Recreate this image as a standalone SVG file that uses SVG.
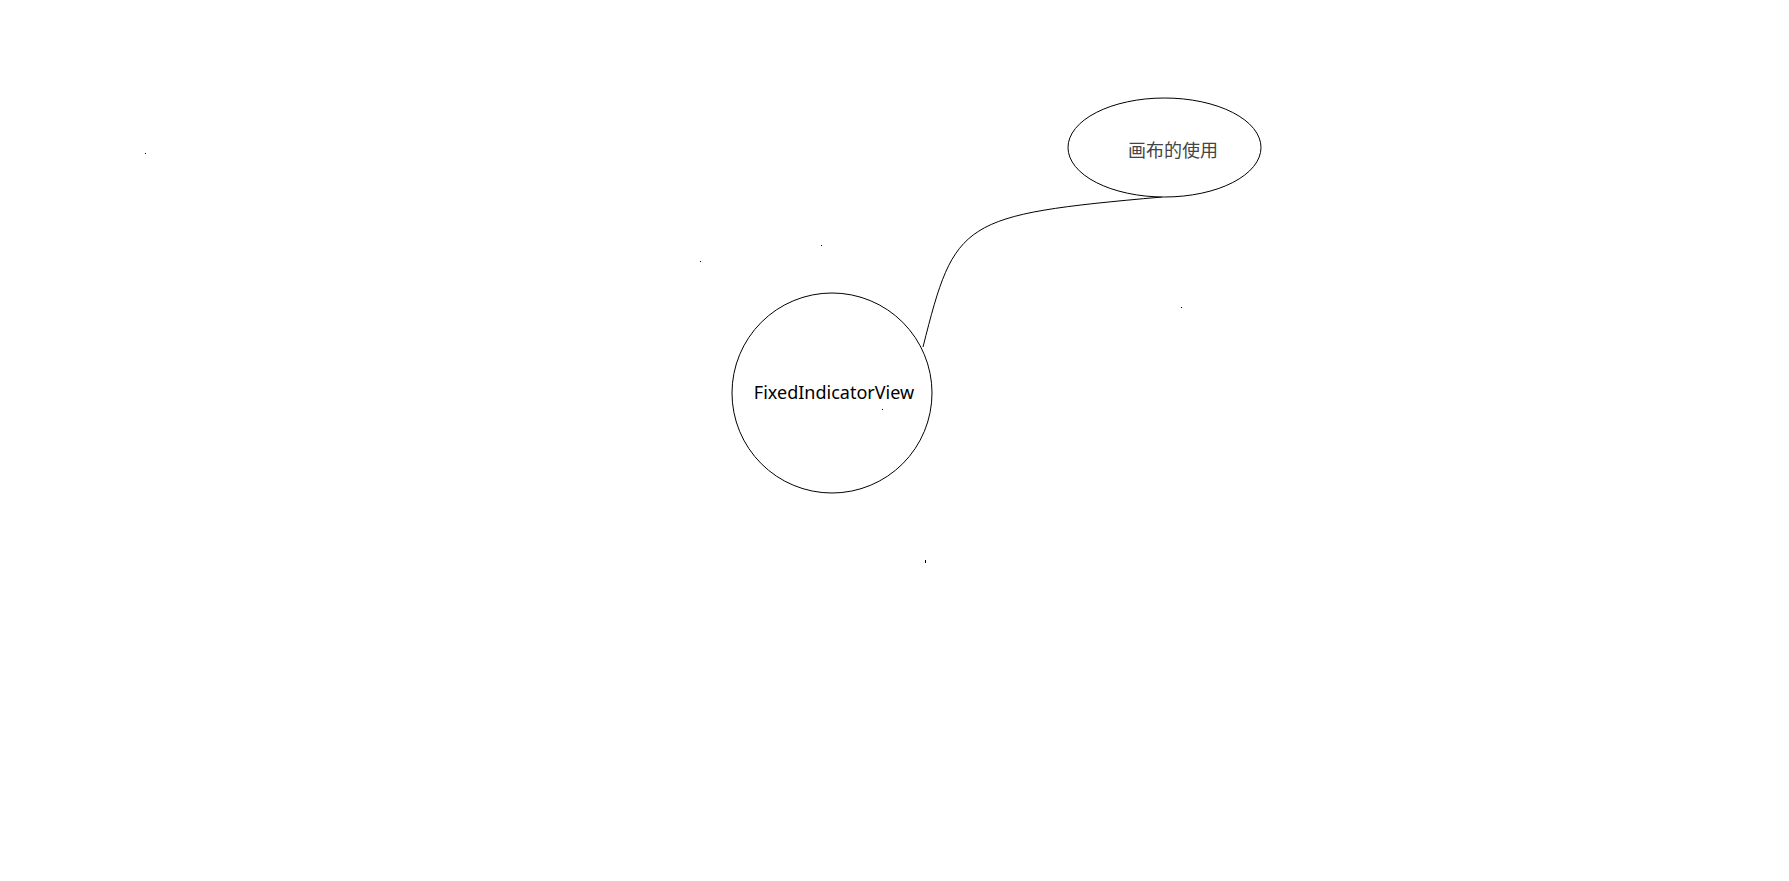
<svg xmlns="http://www.w3.org/2000/svg" width="1789" height="881" viewBox="0 0 1789 881">
<style>
.node{fill:#fff;stroke:#000;stroke-width:1}
.lbl{font-family:"Noto Sans","Noto Sans CJK SC",sans-serif;font-size:18px;text-anchor:middle}
.edge{fill:none;stroke:#000;stroke-width:1}
.dot{fill:#000}
</style>
<rect width="1789" height="881" fill="#fff"/>
<g id="connectors">
<path class="edge" d="M923 347 C955 220 960 215 1162 197"/>
</g>
<g id="node-fixed">
<circle class="node" cx="832" cy="393" r="100"/>
<text class="lbl" x="834" y="399" fill="#000">FixedIndicatorView</text>
</g>
<g id="node-canvas">
<ellipse class="node" cx="1164.5" cy="147.5" rx="96.5" ry="49.5"/>
<text class="lbl" x="1173" y="157" fill="#444">画布的使用</text>
</g>
<g id="specks">
<rect class="dot" x="145" y="153" width="1" height="1"/>
<rect class="dot" x="700" y="261" width="1" height="1"/>
<rect class="dot" x="821" y="245" width="1" height="1"/>
<rect class="dot" x="1181" y="307" width="1" height="1"/>
<rect class="dot" x="882" y="409" width="1" height="1"/>
<rect class="dot" x="925" y="560" width="1" height="3"/>
</g>
</svg>
